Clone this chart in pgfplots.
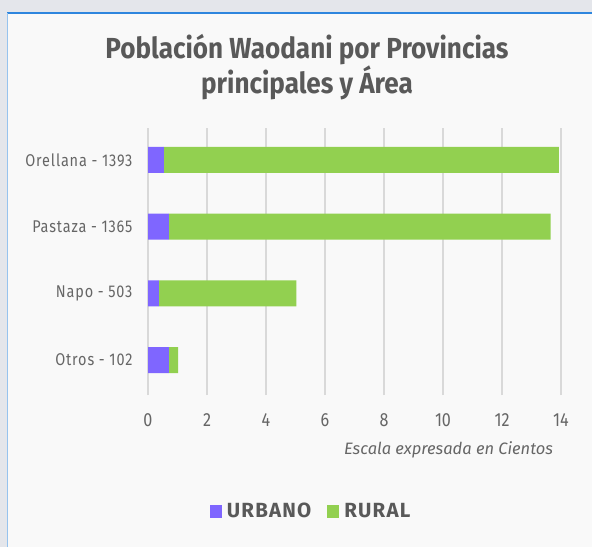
\documentclass[border=0pt]{standalone}
\usepackage{fontspec}
\setmainfont{Fira Sans}
\newfontfamily\cond[FakeStretch=0.85]{Fira Sans}
\newfontfamily\condt[FakeStretch=0.9]{Fira Sans}
\newfontfamily\condsp[FakeStretch=0.85,LetterSpace=5]{Fira Sans}
\newfontfamily\legf[LetterSpace=6]{Fira Sans}
\usepackage{pgfplots}
\pgfplotsset{compat=1.18}
\definecolor{urb}{HTML}{7F66FF}
\definecolor{rur}{HTML}{92D050}
\definecolor{bgc}{HTML}{E4E6EB}
\definecolor{card}{HTML}{F9F9F9}
\definecolor{txt}{HTML}{595959}
\definecolor{tick}{HTML}{666666}
\definecolor{gridc}{HTML}{D9D9D9}
\definecolor{edge}{HTML}{2E86DE}
\begin{document}
\begin{tikzpicture}
\useasboundingbox (0pt,0pt) rectangle (592pt,547pt);
\fill[bgc] (0pt,0pt) rectangle (592pt,547pt);
\fill[card] (7pt,0pt) rectangle (592pt,534pt);
\draw[edge, line width=1.5pt] (7pt,534pt) -- (592pt,534pt);
\draw[edge!50, line width=1pt] (7.5pt,0pt) -- (7.5pt,534pt);
\node[font=\condt\bfseries\fontsize{29}{31}\selectfont, text=txt, align=center] at (307pt,480pt) {Población Waodani por Provincias\\principales y Área};
\node[font=\itshape\fontsize{16.5}{18}\selectfont, text=tick] at (448.5pt,97pt) {Escala expresada en Cientos};
\begin{axis}[at={(148pt,152pt)}, anchor=south west, scale only axis,
  width=413pt, height=267pt,
  xbar stacked, bar width=26pt,
  xmin=0, xmax=14, ymin=-0.525, ymax=3.48,
  ytick={0,1,2,3},
  yticklabels={Otros - 102, Napo - 503, Pastaza - 1365, Orellana - 1393},
  xtick={0,2,...,14},
  xmajorgrids, grid style={gridc, line width=1.2pt},
  axis line style={draw=none},
  major tick length=0pt,
  /pgf/number format/assume math mode=true,
  ticklabel style={font=\cond\fontsize{19}{20}\selectfont, text=tick},
  yticklabel style={font=\condsp\fontsize{17}{20}\selectfont},
  xticklabel style={yshift=-15pt},
  yticklabel style={xshift=-12pt},
  legend style={at={(0.395,-0.434)}, anchor=center, draw=none, fill=none,
    legend columns=2, font=\legf\bfseries\fontsize{20.5}{22}\selectfont, text=txt,
    /tikz/every even column/.append style={column sep=14pt},
    /tikz/every odd column/.append style={column sep=3pt}},
  legend cell align=left,
  legend image code/.code={\fill[#1] (0pt,-7pt) rectangle (12pt,6pt);},
  every axis plot/.append style={draw=none},
]
\addplot[fill=urb] coordinates {(0.71,0) (0.37,1) (0.71,2) (0.54,3)};
\addplot[fill=rur] coordinates {(0.31,0) (4.66,1) (12.94,2) (13.39,3)};
\legend{URBANO, RURAL}
\end{axis}
\end{tikzpicture}
\end{document}
